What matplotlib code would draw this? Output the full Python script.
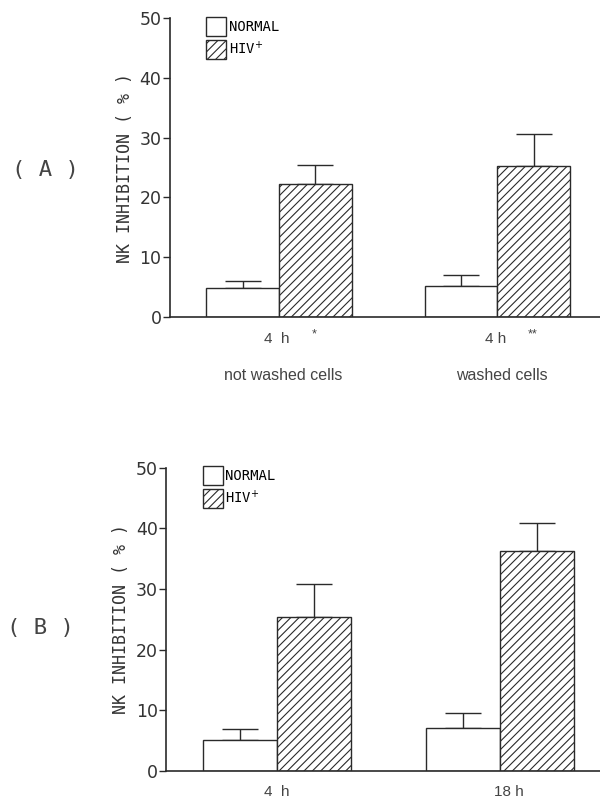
import matplotlib
matplotlib.use("Agg")
import matplotlib.pyplot as plt
import numpy as np

plt.rcParams["hatch.linewidth"] = 0.8

groups = ["A", "B"]
series = ["NORMAL", r"HIV$^{+}$"]

# panel A: not washed / washed cells, 4 h
a_normal = [4.9, 5.1]
a_normal_err = [1.1, 1.9]
a_hiv = [22.2, 25.3]
a_hiv_err = [3.3, 5.4]
a_ticklabels = ["4  h", "4 h"]
a_stars = ["*", "**"]
a_groups = ["not washed cells", "washed cells"]

# panel B: 4 h / 18 h
b_normal = [5.05, 7.15]
b_normal_err = [1.85, 2.45]
b_hiv = [25.3, 36.2]
b_hiv_err = [5.5, 4.6]
b_ticklabels = ["4  h", "18 h"]

yticks = [0, 10, 20, 30, 40, 50]

ink = "#2a2a2a"
txt = "#444444"
w = 0.333


def panel(ax, normal, nerr, hiv, herr, xlim):
    x = np.arange(len(normal))
    ax.bar(x - w / 2, normal, w, color="white", edgecolor=ink, linewidth=1.0,
           label=series[0], zorder=2)
    ax.bar(x + w / 2, hiv, w, color="white", edgecolor=ink, linewidth=1.0,
           hatch="////", label=series[1], zorder=2)
    ax.errorbar(x - w / 2, normal, yerr=[np.zeros(len(nerr)), nerr], fmt="none",
                ecolor=ink, elinewidth=1.0, capsize=13, capthick=1.0, zorder=1)
    ax.errorbar(x + w / 2, hiv, yerr=[np.zeros(len(herr)), herr], fmt="none",
                ecolor=ink, elinewidth=1.0, capsize=13, capthick=1.0, zorder=1)
    ax.set_xlim(*xlim)
    ax.set_ylim(0, 50)
    ax.set_yticks(yticks)
    ax.set_xticks([])
    for s in ["top", "right"]:
        ax.spines[s].set_visible(False)
    for s in ["left", "bottom"]:
        ax.spines[s].set_linewidth(1.2)
        ax.spines[s].set_color(ink)
    ax.tick_params(axis="y", direction="out", length=5, width=1.0, color=ink,
                   labelsize=12.5, labelcolor="#333333", pad=1)
    ax.set_ylabel("NK INHIBITION ( % )", family="DejaVu Sans Mono", fontsize=12,
                  color="#333333", labelpad=4)
    leg = ax.legend(loc="upper left", bbox_to_anchor=(0.055, 1.045), frameon=False,
                    handlelength=1.45, handleheight=1.7, handletextpad=0.2,
                    labelspacing=0.25, prop={"family": "DejaVu Sans Mono", "size": 10})
    for h in leg.legend_handles:
        h.set_linewidth(1.0)
    return x


fig = plt.figure(figsize=(6, 7.98), dpi=100)

axA = fig.add_axes([0.283, 0.603, 0.717, 0.374])
xa = panel(axA, a_normal, a_normal_err, a_hiv, a_hiv_err, (-0.5, 1.47))
axB = fig.add_axes([0.277, 0.034, 0.723, 0.380])
xb = panel(axB, b_normal, b_normal_err, b_hiv, b_hiv_err, (-0.498, 1.448))

# x labels, panel A
for i in range(len(xa)):
    axA.text(xa[i] - 0.01, -0.075, a_ticklabels[i], transform=axA.get_xaxis_transform(),
             ha="center", va="center", fontsize=11, color=txt, family="Liberation Sans")
    axA.text(xa[i] + 0.16, -0.06, a_stars[i], transform=axA.get_xaxis_transform(),
             ha="center", va="center", fontsize=9, color=txt, family="Liberation Sans")
    axA.text(xa[i] + 0.02, -0.195, a_groups[i], transform=axA.get_xaxis_transform(),
             ha="center", va="center", fontsize=11.5, color=txt, family="Liberation Sans")

# x labels, panel B
for i in range(len(xb)):
    axB.text(xb[i] + 0.04 * i, -0.07, b_ticklabels[i], transform=axB.get_xaxis_transform(),
             ha="center", va="center", fontsize=11, color=txt, family="Liberation Sans")

fig.text(0.075, 1 - 170 / 798, "( A )", ha="center", va="center",
         family="DejaVu Sans Mono", fontsize=16, color=txt)
fig.text(0.067, 1 - 628 / 798, "( B )", ha="center", va="center",
         family="DejaVu Sans Mono", fontsize=16, color=txt)

fig.savefig("out.png", dpi=100, facecolor="white")
